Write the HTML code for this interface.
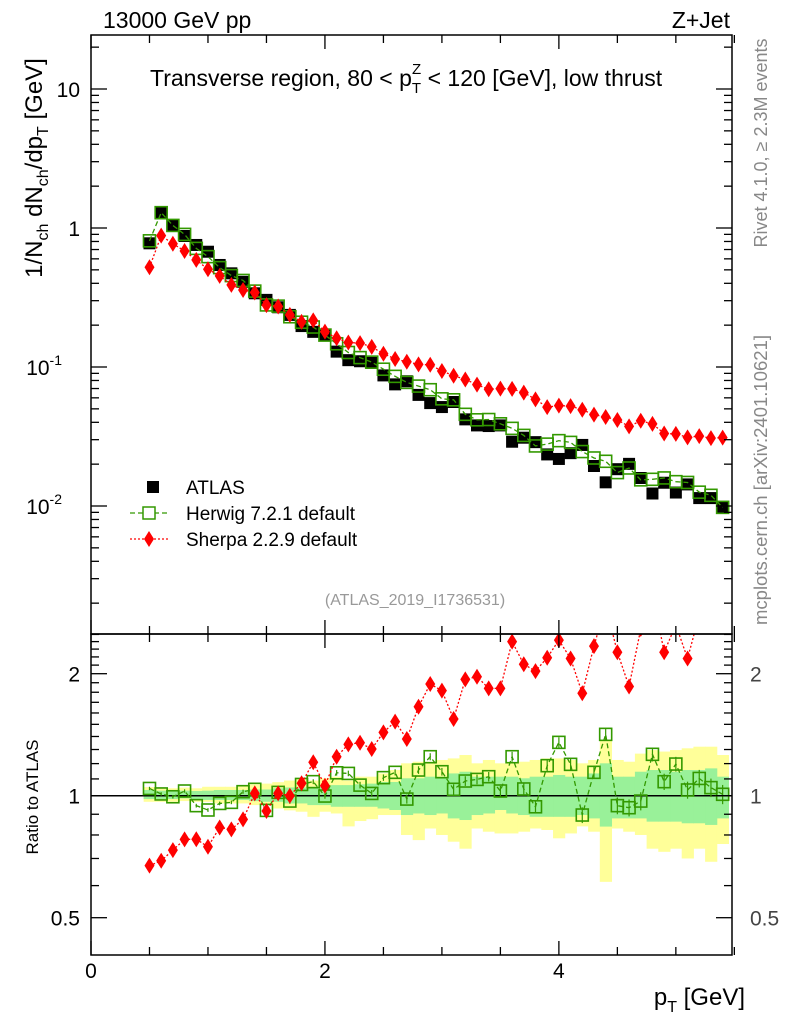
<!DOCTYPE html>
<html><head><meta charset="utf-8"><style>
html,body{margin:0;padding:0;background:#fff;}
svg{display:block;font-family:"Liberation Sans",sans-serif;}
</style></head><body>
<svg id="chart" width="786" height="1024" viewBox="0 0 786 1024" xmlns="http://www.w3.org/2000/svg">
<defs>
<clipPath id="clipMain"><rect x="91" y="35" width="641" height="599"/></clipPath>
<clipPath id="clipRatio"><rect x="91" y="634" width="641" height="321"/></clipPath>
</defs>
<g id="bands" clip-path="url(#clipRatio)"></g>
<g id="marks"></g>
<rect x="91" y="35" width="641" height="599" fill="none" stroke="#000" stroke-width="1.5"/>
<rect x="91" y="634" width="641" height="321" fill="none" stroke="#000" stroke-width="1.5"/>
<g id="axes"></g>
<text x="103" y="28" font-size="23">13000 GeV pp</text>
<text x="730" y="28" font-size="23" text-anchor="end">Z+Jet</text>
<text x="150" y="86" font-size="23">Transverse region, 80 &lt; p<tspan font-size="15" dy="7">T</tspan><tspan font-size="15" dx="-9" dy="-19">Z</tspan><tspan dy="12"> &lt; 120 [GeV], low thrust</tspan></text>
<text transform="translate(42,168) rotate(-90)" font-size="24" text-anchor="middle">1/N<tspan font-size="16" dy="6">ch</tspan><tspan dy="-6"> dN</tspan><tspan font-size="16" dy="6">ch</tspan><tspan dy="-6">/dp</tspan><tspan font-size="16" dy="6">T</tspan><tspan dy="-6"> [GeV]</tspan></text>
<text transform="translate(38,797) rotate(-90)" font-size="17" text-anchor="middle">Ratio to ATLAS</text>
<text x="745" y="1005" font-size="24" text-anchor="end">p<tspan font-size="16" dy="7">T</tspan><tspan dy="-7"> [GeV]</tspan></text>
<text transform="translate(767,143) rotate(-90)" font-size="18" fill="#888" text-anchor="middle">Rivet 4.1.0, ≥ 2.3M events</text>
<text transform="translate(767,480) rotate(-90)" font-size="18.5" fill="#888" text-anchor="middle">mcplots.cern.ch [arXiv:2401.10621]</text>
<text x="415" y="605" font-size="16" fill="#999" text-anchor="middle">(ATLAS_2019_I1736531)</text>
<g>
<rect x="147" y="481" width="12" height="12" fill="#000"/>
<text x="186" y="494" font-size="19">ATLAS</text>
<line x1="130" y1="513" x2="168" y2="513" stroke="#339900" stroke-width="1.3" stroke-dasharray="5,3"/>
<rect x="143" y="507" width="12" height="12" fill="#fff" stroke="#339900" stroke-width="1.5"/>
<text x="186" y="520" font-size="19">Herwig 7.2.1 default</text>
<line x1="130" y1="539" x2="168" y2="539" stroke="#f00" stroke-width="1.3" stroke-dasharray="2,2"/>
<path d="M149,531 L154,539 L149,547 L144,539 Z" fill="#f00"/>
<text x="186" y="546" font-size="19">Sherpa 2.2.9 default</text>
</g>
</svg>
<script>
const xCenters = [0.5,0.6,0.7,0.8,0.9,1.0,1.1,1.2,1.3,1.4,1.5,1.6,1.7,1.8,1.9,2.0,2.1,2.2,2.3,2.4,2.5,2.6,2.7,2.8,2.9,3.0,3.1,3.2,3.3,3.4,3.5,3.6,3.7,3.8,3.9,4.0,4.1,4.2,4.3,4.4,4.5,4.6,4.7,4.8,4.9,5.0,5.1,5.2,5.3,5.4];
const atlasValues = [0.776,1.276,1.05,0.876,0.755,0.675,0.542,0.472,0.41,0.339,0.304,0.269,0.237,0.197,0.179,0.170,0.129,0.112,0.110,0.107,0.087,0.075,0.079,0.063,0.055,0.0515,0.056,0.042,0.038,0.0376,0.038,0.029,0.031,0.0288,0.0235,0.0218,0.024,0.0275,0.0194,0.0148,0.0184,0.0201,0.0159,0.0123,0.0147,0.0125,0.0143,0.0114,0.0114,0.0097];
const herwigRatio = [1.042,1.01,0.994,1.027,0.945,0.922,0.957,0.963,1.023,1.037,0.92,1.019,0.97,1.066,1.083,0.998,1.139,1.135,1.062,1.013,1.108,1.142,0.981,1.157,1.248,1.146,1.037,1.087,1.097,1.114,1.027,1.248,1.039,0.939,1.186,1.354,1.195,0.896,1.142,1.417,0.945,0.934,0.97,1.265,1.083,1.197,1.033,1.103,1.047,1.008];
const herwigErr = [0.01,0.01,0.01,0.01,0.01,0.01,0.01,0.01,0.012,0.012,0.012,0.012,0.015,0.015,0.015,0.015,0.018,0.018,0.02,0.02,0.02,0.02,0.025,0.025,0.025,0.025,0.03,0.03,0.03,0.03,0.03,0.035,0.035,0.035,0.04,0.04,0.04,0.04,0.04,0.045,0.045,0.045,0.05,0.05,0.05,0.05,0.05,0.055,0.055,0.055];
const sherpaRatio = [0.672,0.691,0.734,0.78,0.781,0.748,0.835,0.826,0.874,1.013,0.917,1.013,1.0,1.073,1.209,1.058,1.248,1.339,1.351,1.304,1.433,1.523,1.38,1.658,1.886,1.816,1.546,1.937,1.966,1.84,1.84,2.40,2.11,2.03,2.19,2.42,2.18,1.79,2.34,2.95,2.26,1.86,2.58,3.17,2.26,2.64,2.18,2.79,2.7,3.2];
const totalUp = [1.05,1.047,1.043,1.047,1.043,1.052,1.052,1.052,1.061,1.067,1.071,1.08,1.09,1.104,1.09,1.104,1.114,1.09,1.114,1.114,1.135,1.157,1.202,1.213,1.213,1.225,1.236,1.26,1.202,1.225,1.202,1.202,1.213,1.225,1.236,1.236,1.225,1.202,1.225,1.372,1.225,1.213,1.27,1.296,1.285,1.296,1.309,1.321,1.321,1.26];
const totalDn = [0.966,0.966,0.966,0.97,0.966,0.966,0.957,0.957,0.957,0.948,0.948,0.93,0.92,0.913,0.887,0.913,0.904,0.84,0.866,0.875,0.896,0.896,0.80,0.777,0.83,0.80,0.77,0.74,0.83,0.815,0.807,0.807,0.815,0.83,0.823,0.785,0.807,0.84,0.815,0.613,0.83,0.815,0.8,0.74,0.727,0.74,0.70,0.74,0.687,0.76];
const statUp = [1.033,1.029,1.027,1.029,1.027,1.029,1.033,1.033,1.033,1.036,1.036,1.043,1.048,1.048,1.052,1.052,1.062,1.062,1.067,1.071,1.081,1.081,1.104,1.104,1.114,1.114,1.135,1.146,1.114,1.114,1.114,1.114,1.104,1.114,1.114,1.125,1.114,1.114,1.135,1.202,1.114,1.114,1.146,1.157,1.157,1.146,1.157,1.157,1.168,1.114];
const statDn = [0.981,0.981,0.981,0.985,0.981,0.976,0.976,0.976,0.976,0.970,0.966,0.966,0.957,0.957,0.948,0.948,0.939,0.939,0.939,0.939,0.93,0.922,0.896,0.904,0.896,0.904,0.879,0.871,0.896,0.904,0.922,0.904,0.896,0.887,0.887,0.887,0.887,0.896,0.879,0.839,0.879,0.879,0.879,0.863,0.863,0.863,0.855,0.855,0.847,0.879];
const xTickLabels = ["0","2","4"];
const mainTickLabels = ["10","1","10","10"];
const ratioTickLabels = ["2","1","0.5"];

const NS = "http://www.w3.org/2000/svg";
const X0 = 91, X1 = 732, XMAX = 5.48;
const xPx = v => X0 + v * (X1 - X0) / XMAX;
const yMain = v => 228 - 139 * Math.log10(v);
const yRatio = r => 795.7 - 122 * Math.log2(r);
function mk(tag, attrs, parent) {
  const e = document.createElementNS(NS, tag);
  for (const k in attrs) e.setAttribute(k, attrs[k]);
  parent.appendChild(e);
  return e;
}
const bands = document.getElementById('bands');
const marks = document.getElementById('marks');
const axes = document.getElementById('axes');
const halfW = 0.05;

xCenters.forEach((x, i) => {
  const y1 = mk('rect', {x: xPx(x - halfW), y: yRatio(totalUp[i]), width: xPx(x + halfW) - xPx(x - halfW) + 0.5, height: yRatio(totalDn[i]) - yRatio(totalUp[i]), fill: '#ffff99'}, bands);
  
  
});
xCenters.forEach((x, i) => {
  const g1 = mk('rect', {x: xPx(x - halfW), y: yRatio(statUp[i]), width: xPx(x + halfW) - xPx(x - halfW) + 0.5, height: yRatio(statDn[i]) - yRatio(statUp[i]), fill: '#99f199'}, bands);
  
  
});
const unity = mk('line', {x1: X0, x2: X1, y1: yRatio(1), y2: yRatio(1), stroke: '#000', 'stroke-width': 1.5}, bands);



const gMain = mk('g', {'clip-path': 'url(#clipMain)'}, marks);
const gRatio = mk('g', {'clip-path': 'url(#clipRatio)'}, marks);
const herwigVals = atlasValues.map((v, i) => v * herwigRatio[i]);
const sherpaVals = atlasValues.map((v, i) => v * sherpaRatio[i]);

function poly(vals, yf, g, color, dash, name) {
  const p = mk('polyline', {points: xCenters.map((x, i) => xPx(x) + ',' + yf(vals[i])).join(' '), fill: 'none', stroke: color, 'stroke-width': 1.3, 'stroke-dasharray': dash}, g);
  
  
}
function diamond(x, y, g) {
  const d = mk('path', {d: `M${x},${y - 8} L${x + 5},${y} L${x},${y + 8} L${x - 5},${y} Z`, fill: '#f00'}, g);
  
  
}
function hsq(x, y, g) {
  const s = mk('rect', {x: x - 6, y: y - 6, width: 12, height: 12, fill: 'none', stroke: '#339900', 'stroke-width': 1.6}, g);
  
  
}

xCenters.forEach((x, i) => {
  const a = mk('rect', {x: xPx(x) - 6, y: yMain(atlasValues[i]) - 6, width: 12, height: 12, fill: '#000'}, gMain);
  
  
});
poly(herwigVals, yMain, gMain, '#339900', '5,3', 'herwig-line');
xCenters.forEach((x, i) => hsq(xPx(x), yMain(herwigVals[i]), gMain));
poly(sherpaVals, yMain, gMain, '#f00', '2,2', 'sherpa-line');
xCenters.forEach((x, i) => diamond(xPx(x), yMain(sherpaVals[i]), gMain));

poly(herwigRatio, yRatio, gRatio, '#339900', '5,3', 'herwig-ratio-line');
xCenters.forEach((x, i) => {
  const e = mk('line', {x1: xPx(x), x2: xPx(x), y1: yRatio(herwigRatio[i] + herwigErr[i]), y2: yRatio(herwigRatio[i] - herwigErr[i]), stroke: '#339900', 'stroke-width': 1.2}, gRatio);
  
  
  hsq(xPx(x), yRatio(herwigRatio[i]), gRatio);
});
poly(sherpaRatio, yRatio, gRatio, '#f00', '2,2', 'sherpa-ratio-line');
xCenters.forEach((x, i) => diamond(xPx(x), yRatio(sherpaRatio[i]), gRatio));

function tk(x1, y1, x2, y2) { mk('line', {x1, y1, x2, y2, stroke: '#000', 'stroke-width': 1.3}, axes); }
for (let v = 0; v <= 5.5; v += 0.5) {
  const major = Math.abs(v % 2) < 1e-6;
  const L = major ? 14 : 8;
  tk(xPx(v), 634, xPx(v), 634 - L);
  tk(xPx(v), 35, xPx(v), 35 + L);
  tk(xPx(v), 955, xPx(v), 955 - L);
  tk(xPx(v), 634, xPx(v), 634 + L);
}
xTickLabels.forEach((lab, i) => {
  const t = mk('text', {x: xPx(+lab), y: 978, 'font-size': 21, 'text-anchor': 'middle'}, axes);
  t.textContent = lab;
  
  
});
for (let e = -3; e <= 1; e++) {
  for (let m = 1; m <= 9; m++) {
    const v = m * Math.pow(10, e);
    const y = yMain(v);
    if (y < 35 || y > 634) continue;
    const L = m === 1 ? 16 : 8;
    tk(X0, y, X0 + L, y);
    tk(X1, y, X1 - L, y);
  }
}
const mainExps = [1, 0, -1, -2];
mainTickLabels.forEach((lab, i) => {
  const e = mainExps[i];
  const t = mk('text', {x: e < 0 ? 62 : 80, y: yMain(Math.pow(10, e)) + 8, 'font-size': 21, 'text-anchor': 'end'}, axes);
  t.textContent = lab;
  if (e < 0) {
    const s = mk('tspan', {'font-size': 14, dy: -10}, t);
    s.textContent = String(e);
  }
  
  
});
const ratioVals = [2, 1, 0.5];
for (let r = 0.4; r <= 2.55; r += 0.1) {
  const y = yRatio(r);
  if (y < 634 || y > 955) continue;
  const major = ratioVals.some(v => Math.abs(v - r) < 1e-6);
  const L = major ? 16 : 8;
  tk(X0, y, X0 + L, y);
  tk(X1, y, X1 - L, y);
}
ratioTickLabels.forEach((lab, i) => {
  const y = yRatio(ratioVals[i]) + 8;
  const t = mk('text', {x: 80, y, 'font-size': 21, 'text-anchor': 'end'}, axes);
  t.textContent = lab;
  
  
  const t2 = mk('text', {x: 750, y, 'font-size': 21, fill: '#444'}, axes);
  t2.textContent = lab;
  
  
});
</script>
</body></html>
